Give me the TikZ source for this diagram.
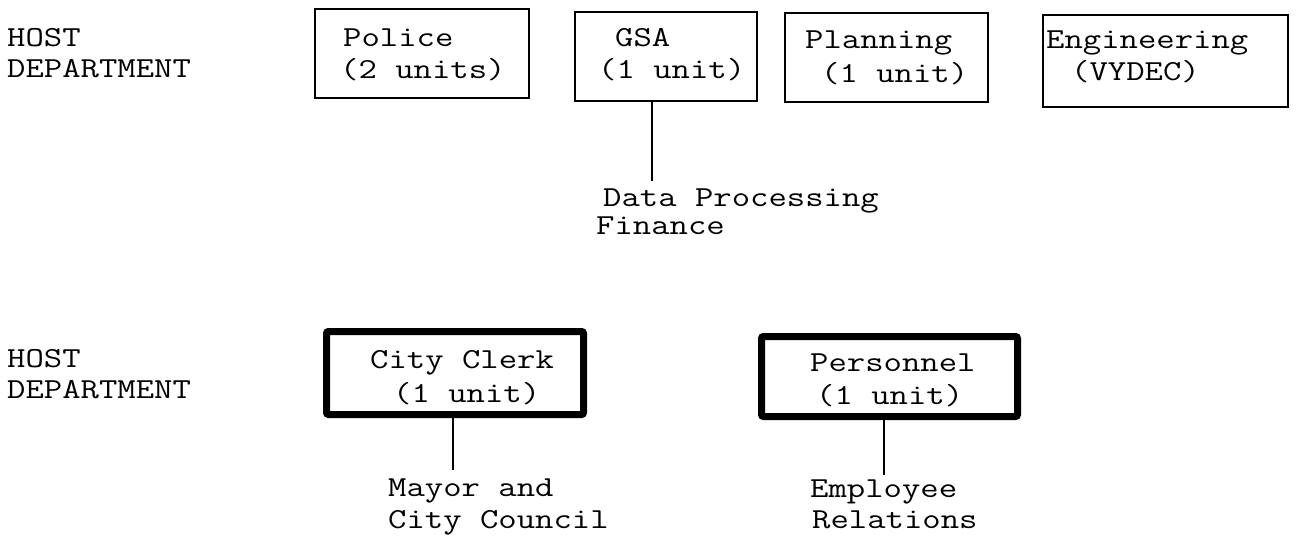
\documentclass[tikz,border=0pt]{standalone}
\usepackage{fontspec}
\usepackage{graphicx}
\newcommand{\sx}[1]{\scalebox{1.23}[1]{#1}}
\tikzset{
  txt/.style={anchor=base west, inner sep=0pt, font=\ttfamily\fontsize{29}{31}\selectfont\addfontfeatures{FakeBold=1.3}},
  thinbox/.style={draw, line width=2.2pt, inner sep=0pt},
  thickbox/.style={draw, line width=7pt, inner sep=0pt, rounded corners=2pt},
  conn/.style={line width=2.6pt}
}
\begin{document}
\begin{tikzpicture}[x=1pt, y=-1pt]
\fill[white] (0,0) rectangle (1303,536);
\useasboundingbox (0,0) rectangle (1303,536);

% top row
\node[txt] (h1a) at (7,46) {\sx{HOST}};
\node[txt] (h1b) at (7,77) {\sx{DEPARTMENT}};

\node[thinbox, minimum width=214pt, minimum height=89pt] (police) at (422,53.5) {};
\node[txt] (police1) at (343,46) {\sx{Police}};
\node[txt] (police2) at (340,78) {\sx{(2 units)}};

\node[thinbox, minimum width=182pt, minimum height=89pt] (gsa) at (666,56.5) {};
\node[txt] (gsa1) at (615,46) {\sx{GSA}};
\node[txt] (gsa2) at (598,78) {\sx{(1 unit)}};

\node[thinbox, minimum width=203pt, minimum height=89pt] (plan) at (886.5,57.5) {};
\node[txt] (plan1) at (805,48) {\sx{Planning}};
\node[txt] (plan2) at (821,82) {\sx{(1 unit)}};

\node[thinbox, minimum width=245pt, minimum height=92pt] (eng) at (1165.5,61) {};
\node[txt] (eng1) at (1046,48) {\sx{Engineering}};
\node[txt] (eng2) at (1071,80) {\sx{(VYDEC)}};

\node[txt] (dp1) at (603,206) {\sx{Data Processing}};
\node[txt] (dp2) at (596,234) {\sx{Finance}};
\coordinate (gend) at (652,181);
\draw[conn] (gend |- gsa.south) -- (gend);

% bottom row
\node[txt] (h2a) at (7,367) {\sx{HOST}};
\node[txt] (h2b) at (7,398) {\sx{DEPARTMENT}};

\node[thickbox, minimum width=257pt, minimum height=83pt] (clerk) at (455,373) {};
\node[txt] (clerk1) at (370,368) {\sx{City Clerk}};
\node[txt] (clerk2) at (393,402) {\sx{(1 unit)}};

\node[thickbox, minimum width=256pt, minimum height=80pt] (pers) at (889.5,376.5) {};
\node[txt] (pers1) at (810,371) {\sx{Personnel}};
\node[txt] (pers2) at (816,404) {\sx{(1 unit)}};

\node[txt] (may1) at (388,496) {\sx{Mayor and}};
\node[txt] (may2) at (388,528) {\sx{City Council}};
\coordinate (cend) at (453,470);
\draw[conn] (cend |- clerk.south) -- (cend);

\node[txt] (emp1) at (810,497) {\sx{Employee}};
\node[txt] (emp2) at (812,528) {\sx{Relations}};
\coordinate (pend) at (884,475);
\draw[conn] (pend |- pers.south) -- (pend);
\end{tikzpicture}
\end{document}
